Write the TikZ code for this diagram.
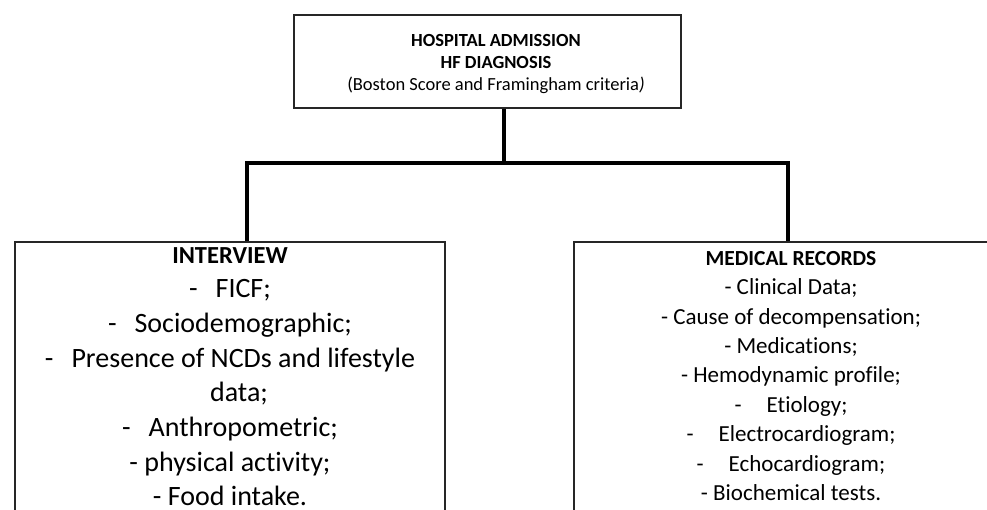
\documentclass[tikz,border=0pt]{standalone}
\usepackage{fontspec}
\setmainfont{Carlito}[Ligatures=NoCommon]
\usepackage{tikz}
\usetikzlibrary{positioning,calc}

\begin{document}
\begin{tikzpicture}[
  x=1pt, y=-1pt,
  topbox/.style = {draw=black!85, line width=1.6pt, minimum width=387pt,
                   minimum height=93pt, inner sep=0pt},
  panel/.style  = {draw=black!85, line width=2pt, anchor=north west,
                   minimum width=430pt, minimum height=320pt, inner sep=0pt},
  toptxt/.style = {align=center, inner sep=0pt,
                   font=\fontsize{18.5}{22}\selectfont},
  ltxt/.style   = {align=center, inner sep=0pt, anchor=north,
                   font=\fontsize{28}{34.7}\selectfont},
  rtxt/.style   = {align=center, inner sep=0pt, anchor=north,
                   font=\fontsize{23}{29.4}\selectfont},
  link/.style   = {line width=4pt, draw=black}
]
\useasboundingbox (0,0) rectangle (987,509);

%%%%%%%%%%%%%%%%%%%%%%% ADMISSION %%%%%%%%%%%%%%%%%%%%%%%%%%%%%%%%%
\node[topbox] (adm) at (487.5,61.5) {};
\node[toptxt] (admtxt) at (496,64)
      {\textbf{HOSPITAL ADMISSION}\\
       \textbf{HF DIAGNOSIS}\\
       (Boston Score and Framingham criteria\textit{)}};

%%%%%%%%%%%%%%%%%%%%%%% INTERVIEW %%%%%%%%%%%%%%%%%%%%%%%%%%%%%%%%%
\node[panel] (intv) at (14,241) {};
\node[ltxt] (intvtxt) at (230,247)
      {{\fontsize{24.5}{34.7}\selectfont\bfseries INTERVIEW}\\
       -\hspace{18pt}FICF;\\
       -\hspace{18pt}Sociodemographic;\\
       -\hspace{18pt}Presence of NCDs and lifestyle\\
       \hspace{18pt}data;\\
       -\hspace{18pt}Anthropometric;\\
       - physical activity;\\
       - Food intake.};

%%%%%%%%%%%%%%%%%%%%%%% MEDICAL RECORDS %%%%%%%%%%%%%%%%%%%%%%%%%%%
\node[panel] (recs) at (573,241) {};
\node[rtxt] (recstxt) at (791,251)
      {{\fontsize{21.5}{29.4}\selectfont\bfseries MEDICAL RECORDS}\\
       - Clinical Data;\\
       - Cause of decompensation;\\
       - Medications;\\
       - Hemodynamic profile;\\
       -\hspace{25pt}Etiology;\\
       -\hspace{25pt}Electrocardiogram;\\
       -\hspace{25pt}Echocardiogram;\\
       - Biochemical tests.};

%%%%%%%%%%%%%%%%%%%%%%% CONNECTORS %%%%%%%%%%%%%%%%%%%%%%%%%%%%%%%%
\coordinate (split) at (504,163);
\draw[link] (split |- adm.south) -- (split);
\draw[link] (split) -| ([xshift=17pt]intv.north);
\draw[link] (split) -| ([xshift=-1pt]recs.north);

\end{tikzpicture}
\end{document}
